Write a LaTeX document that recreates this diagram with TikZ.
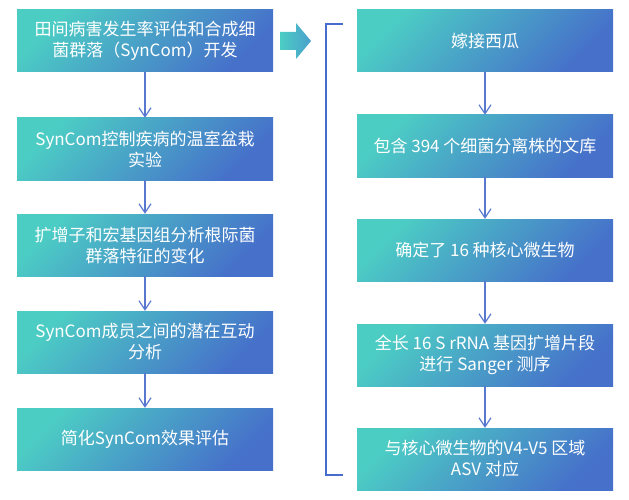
\documentclass[tikz,border=0pt]{standalone}
\usepackage{fontspec}
\setmainfont{Noto Sans CJK SC}
\usetikzlibrary{arrows.meta}
\definecolor{tealc}{RGB}{76,205,196}
\definecolor{midc}{RGB}{72,178,200}
\definecolor{bluec}{RGB}{70,112,202}
\definecolor{arrowc}{RGB}{88,120,208}
\definecolor{brackc}{RGB}{72,108,206}
\tikzset{
  gbox/.style={minimum width=256pt, minimum height=62pt, inner sep=0pt,
    left color=tealc, middle color=midc, right color=bluec, shading angle=45,
    text=white, align=center, font=\fontsize{17}{21}\selectfont},
  flow/.style={draw=arrowc, line width=1.2pt, -{Straight Barb[length=9pt,width=12pt,line width=1.2pt]}},
}
\begin{document}
\begin{tikzpicture}[x=1pt,y=-1pt]
\useasboundingbox (0,0) rectangle (629,500);
% left column
\node[gbox] (l1) at (145,41) {田间病害发生率评估和合成细\\菌群落（SynCom）开发};
\node[gbox] (l2) at (145,149) {SynCom控制疾病的温室盆栽\\实验};
\node[gbox] (l3) at (145,245) {扩增子和宏基因组分析根际菌\\群落特征的变化};
\node[gbox] (l4) at (145,342) {SynCom成员之间的潜在互动\\分析};
\node[gbox] (l5) at (145,439) {简化SynCom效果评估};
% right column
\node[gbox] (r1) at (485,41) {嫁接西瓜};
\node[gbox] (r2) at (485,146) {包含 394 个细菌分离株的文库};
\node[gbox] (r3) at (485,250) {确定了 16 种核心微生物};
\node[gbox] (r4) at (485,355) {全长 16 S rRNA 基因扩增片段\\进行 Sanger 测序};
\node[gbox] (r5) at (485,459) {与核心微生物的V4-V5 区域\\ASV 对应};
% connectors
\foreach \a/\b in {l1/l2,l2/l3,l3/l4,l4/l5,r1/r2,r2/r3,r3/r4,r4/r5}
  \draw[flow] (\a.south) -- (\b.north);
% chevron arrow
\shade[left color=tealc, right color={rgb,255:red,74;green,160;blue,204}]
  (280,32) -- (296,32) -- (296,23) -- (311,41) -- (296,59) -- (296,50) -- (280,50) -- cycle;
% bracket
\coordinate (bt) at (343,24);
\coordinate (bb) at (343,475);
\draw[brackc, line width=1.5pt] (bt) -- (326,24) -- (326,475) -- (bb);
\end{tikzpicture}
\end{document}
